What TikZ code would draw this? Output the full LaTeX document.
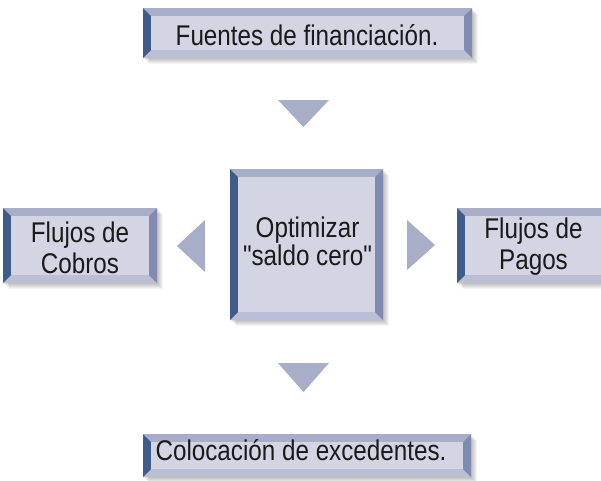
\documentclass[tikz,border=0pt]{standalone}
\usepackage{fontspec}
\setmainfont{Liberation Sans}[Ligatures=TeXOff, FakeStretch=0.85]
\definecolor{face}{HTML}{D3D5E3}
\definecolor{bvtop}{HTML}{A8ADC9}
\definecolor{bvleft}{HTML}{3F5B87}
\definecolor{bvright}{HTML}{7F8BB1}
\definecolor{bvbot}{HTML}{BBBFD5}
\definecolor{tri}{HTML}{A8ADC8}
\definecolor{txt}{HTML}{1A1A1A}
\tikzset{
  boxface/.style={fill=face, inner sep=0pt},
  boxtext/.style={inner sep=0pt, align=center, text=txt, anchor=base},
  sidefont/.style={font=\fontsize{28.5}{31}\selectfont},
  midfont/.style={font=\fontsize{28.5}{24.5}\selectfont},
  shadowpart/.style={fill=black, opacity=0.045},
  arrowtri/.style={fill=tri}
}
% #1 name, #2 x1, #3 y1, #4 x2, #5 y2
\newcommand\bevbox[5]{%
  \foreach \k in {1,...,6}{\fill[shadowpart] (#2+\k,#3+\k) rectangle (#4+\k,#5+\k);}
  \fill[bvtop] (#2,#3) -- (#4,#3) -- (#4-8,#3+8) -- (#2+8,#3+8) -- cycle;
  \fill[bvbot] (#2,#5) -- (#4,#5) -- (#4-8,#5-8) -- (#2+8,#5-8) -- cycle;
  \fill[bvleft] (#2,#3) -- (#2+8,#3+8) -- (#2+8,#5-8) -- (#2,#5) -- cycle;
  \fill[bvright] (#4,#3) -- (#4-8,#3+8) -- (#4-8,#5-8) -- (#4,#5) -- cycle;
  \pgfmathsetmacro\bw{#4-#2-16}%
  \pgfmathsetmacro\bh{#5-#3-16}%
  \node[boxface, minimum width=\bw pt, minimum height=\bh pt] (#1)
    at ({(#2+#4)/2},{(#3+#5)/2}) {};
}
\begin{document}
\begin{tikzpicture}[x=1pt,y=-1pt]
  \useasboundingbox (0,0) rectangle (601,480);
  \clip (0,0) rectangle (601,480);
  \fill[white] (0,0) rectangle (601,480);
  \bevbox{fuentes}{143}{8}{472}{58}
  \bevbox{cobros}{3}{208}{157}{283}
  \bevbox{optim}{230}{169}{383}{320}
  \bevbox{pagos}{457}{208}{620}{283}
  \bevbox{coloc}{143}{434}{471}{477}
  \node[boxtext, sidefont] (fuentes-t) at (307,45) {Fuentes de financiación.};
  \node[boxtext, sidefont] (cobros-t) at (80,273) {Flujos de\\Cobros};
  \node[boxtext, midfont] (optim-t) at (307.5,265) {Optimizar\\"saldo cero"};
  \node[boxtext, sidefont] (pagos-t) at (533.5,269) {Flujos de\\Pagos};
  \node[boxtext, sidefont] (coloc-t) at (301,460) {Colocación de excedentes.};
  % arrow triangles
  \fill[arrowtri] (278,100) -- (329,100) -- (303.5,127) -- cycle;
  \fill[arrowtri] (278,363) -- (329,363) -- (303.5,392) -- cycle;
  \fill[arrowtri] (205,220) -- (205,272) -- (177,246) -- cycle;
  \fill[arrowtri] (407,220) -- (407,270) -- (435,245) -- cycle;
\end{tikzpicture}
\end{document}
